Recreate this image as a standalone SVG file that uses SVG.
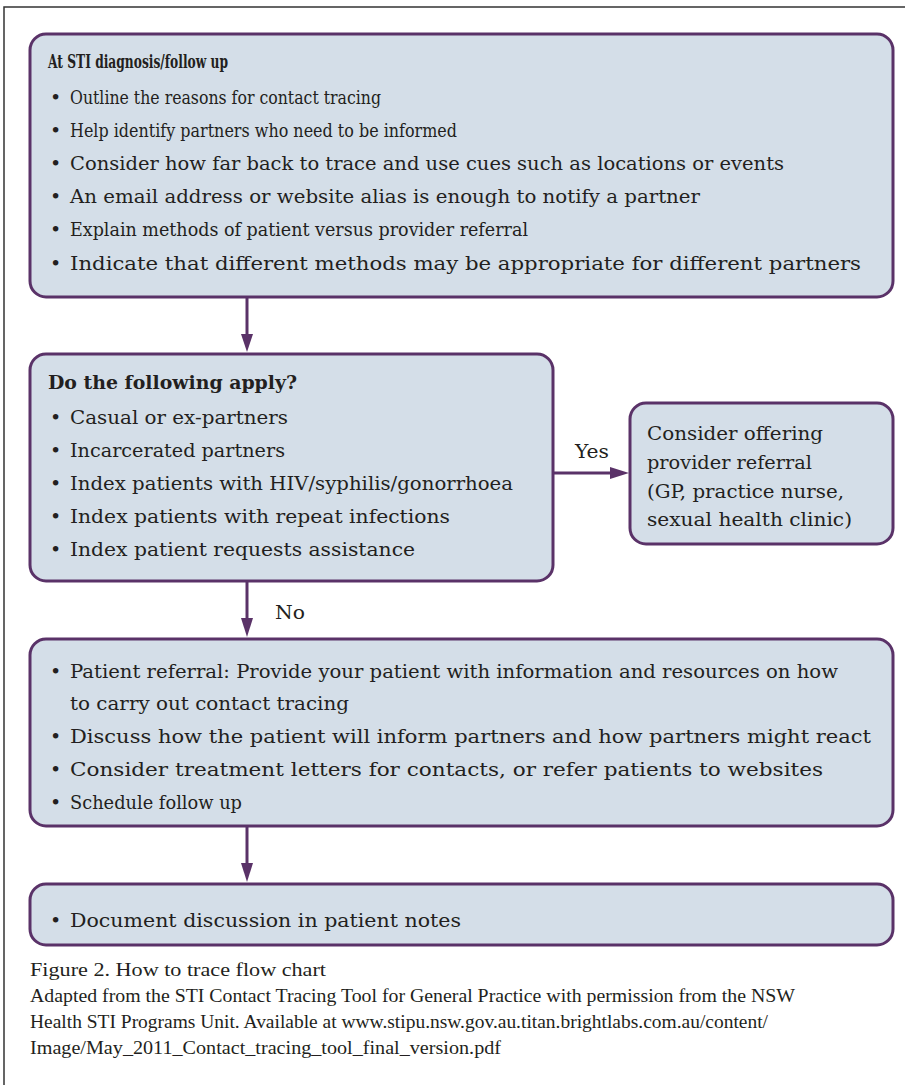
<svg xmlns="http://www.w3.org/2000/svg" width="905" height="1085" viewBox="0 0 905 1085">
<style>
.box{fill:#d4dee8;stroke:#5a3268;stroke-width:3}
.t{font-family:"DejaVu Serif","Liberation Serif",serif;font-size:19px;fill:#231f20}
.h{font-weight:bold}
.cap{font-family:"Liberation Serif","DejaVu Serif",serif;font-size:18px;fill:#231f20}
.conn{stroke:#5a3268;stroke-width:3;fill:none}
.head{fill:#5a3268}
</style>
<rect width="905" height="1085" fill="#ffffff"/>
<g id="frame" stroke="#333333" stroke-width="1.5" fill="none">
<path d="M4 1085 V7 H905"/>
</g>
<g id="connectors">
<line class="conn" x1="247" y1="298" x2="247" y2="336"/>
<polygon class="head" points="241,334 253,334 247,352"/>
<line class="conn" x1="553" y1="473" x2="612" y2="473"/>
<polygon class="head" points="610,467 610,479 629,473"/>
<text class="t" x="575" y="458" textLength="34" lengthAdjust="spacingAndGlyphs">Yes</text>
<line class="conn" x1="247" y1="582" x2="247" y2="620"/>
<polygon class="head" points="241,618 253,618 247,637"/>
<text class="t" x="275" y="619" textLength="30" lengthAdjust="spacingAndGlyphs">No</text>
<line class="conn" x1="247" y1="827" x2="247" y2="865"/>
<polygon class="head" points="241,863 253,863 247,882"/>
</g>
<g id="node-diagnosis">
<rect class="box" x="30" y="34" width="863" height="263" rx="16"/>
<text class="t h" x="48" y="68" textLength="180" lengthAdjust="spacingAndGlyphs">At STI diagnosis/follow up</text>
<text class="t" x="50" y="104">•</text>
<text class="t" x="70" y="104" textLength="311" lengthAdjust="spacingAndGlyphs">Outline the reasons for contact tracing</text>
<text class="t" x="50" y="137">•</text>
<text class="t" x="70" y="137" textLength="387" lengthAdjust="spacingAndGlyphs">Help identify partners who need to be informed</text>
<text class="t" x="50" y="170">•</text>
<text class="t" x="70" y="170" textLength="714" lengthAdjust="spacingAndGlyphs">Consider how far back to trace and use cues such as locations or events</text>
<text class="t" x="50" y="203">•</text>
<text class="t" x="70" y="203" textLength="630" lengthAdjust="spacingAndGlyphs">An email address or website alias is enough to notify a partner</text>
<text class="t" x="50" y="236">•</text>
<text class="t" x="70" y="236" textLength="458" lengthAdjust="spacingAndGlyphs">Explain methods of patient versus provider referral</text>
<text class="t" x="50" y="270">•</text>
<text class="t" x="70" y="270" textLength="791" lengthAdjust="spacingAndGlyphs">Indicate that different methods may be appropriate for different partners</text>
</g>
<g id="node-apply">
<rect class="box" x="30" y="354" width="523" height="227" rx="16"/>
<text class="t h" x="48" y="389" textLength="249" lengthAdjust="spacingAndGlyphs">Do the following apply?</text>
<text class="t" x="50" y="424">•</text>
<text class="t" x="70" y="424" textLength="218" lengthAdjust="spacingAndGlyphs">Casual or ex-partners</text>
<text class="t" x="50" y="457">•</text>
<text class="t" x="70" y="457" textLength="215" lengthAdjust="spacingAndGlyphs">Incarcerated partners</text>
<text class="t" x="50" y="490">•</text>
<text class="t" x="70" y="490" textLength="443" lengthAdjust="spacingAndGlyphs">Index patients with HIV/syphilis/gonorrhoea</text>
<text class="t" x="50" y="523">•</text>
<text class="t" x="70" y="523" textLength="380" lengthAdjust="spacingAndGlyphs">Index patients with repeat infections</text>
<text class="t" x="50" y="556">•</text>
<text class="t" x="70" y="556" textLength="345" lengthAdjust="spacingAndGlyphs">Index patient requests assistance</text>
</g>
<g id="node-provider">
<rect class="box" x="630" y="403" width="263" height="141" rx="16"/>
<text class="t" x="647" y="440" textLength="176" lengthAdjust="spacingAndGlyphs">Consider offering</text>
<text class="t" x="647" y="469" textLength="165" lengthAdjust="spacingAndGlyphs">provider referral</text>
<text class="t" x="647" y="498" textLength="197" lengthAdjust="spacingAndGlyphs">(GP, practice nurse,</text>
<text class="t" x="647" y="526" textLength="205" lengthAdjust="spacingAndGlyphs">sexual health clinic)</text>
</g>
<g id="node-patient-referral">
<rect class="box" x="30" y="639" width="863" height="187" rx="16"/>
<text class="t" x="50" y="678">•</text>
<text class="t" x="70" y="678" textLength="768" lengthAdjust="spacingAndGlyphs">Patient referral: Provide your patient with information and resources on how</text>
<text class="t" x="70" y="710" textLength="279" lengthAdjust="spacingAndGlyphs">to carry out contact tracing</text>
<text class="t" x="50" y="743">•</text>
<text class="t" x="70" y="743" textLength="801" lengthAdjust="spacingAndGlyphs">Discuss how the patient will inform partners and how partners might react</text>
<text class="t" x="50" y="776">•</text>
<text class="t" x="70" y="776" textLength="753" lengthAdjust="spacingAndGlyphs">Consider treatment letters for contacts, or refer patients to websites</text>
<text class="t" x="50" y="809">•</text>
<text class="t" x="70" y="809" textLength="172" lengthAdjust="spacingAndGlyphs">Schedule follow up</text>
</g>
<g id="node-document">
<rect class="box" x="30" y="884" width="863" height="61" rx="16"/>
<text class="t" x="50" y="927">•</text>
<text class="t" x="70" y="927" textLength="391" lengthAdjust="spacingAndGlyphs">Document discussion in patient notes</text>
</g>
<g id="caption">
<text class="cap" x="30" y="976" textLength="296" lengthAdjust="spacingAndGlyphs">Figure 2. How to trace flow chart</text>
<text class="cap" x="30" y="1002" textLength="765" lengthAdjust="spacingAndGlyphs">Adapted from the STI Contact Tracing Tool for General Practice with permission from the NSW</text>
<text class="cap" x="30" y="1028" textLength="738" lengthAdjust="spacingAndGlyphs">Health STI Programs Unit. Available at www.stipu.nsw.gov.au.titan.brightlabs.com.au/content/</text>
<text class="cap" x="30" y="1054" textLength="471" lengthAdjust="spacingAndGlyphs">Image/May_2011_Contact_tracing_tool_final_version.pdf</text>
</g>
</svg>
